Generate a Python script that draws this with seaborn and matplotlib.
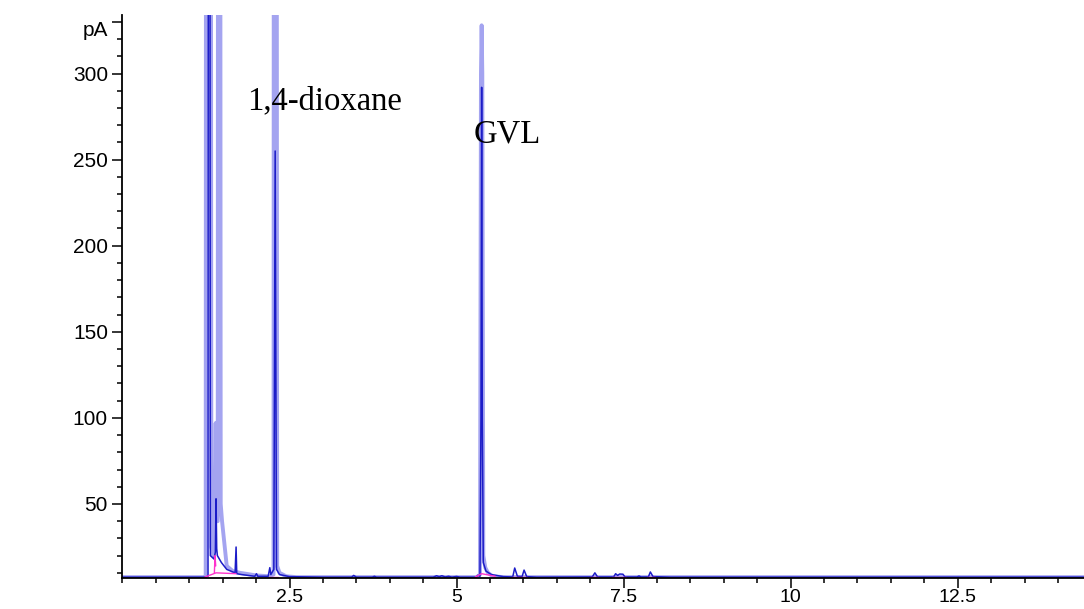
import numpy as np
import pandas as pd
import matplotlib
matplotlib.use("Agg")
import matplotlib.pyplot as plt
from matplotlib.ticker import MultipleLocator
from matplotlib.transforms import ScaledTranslation
import seaborn as sns

# Chromatogram traces (time in min, signal in pA)
# off-scale peaks are given a large value and get clipped by the axes
light_t = [0.0, 1.22, 1.245, 1.255, 1.315, 1.33, 1.36, 1.385, 1.395, 1.405, 1.425, 1.435, 1.455,
           1.47, 1.49, 1.56, 1.65, 1.76, 2.0, 2.2, 2.26, 2.27, 2.30, 2.315, 2.35, 2.45, 2.6,
           5.30, 5.35, 5.365, 5.375, 5.385, 5.40, 5.43, 5.47, 5.54, 5.7, 14.4]
light_v = [7.5, 7.5, 8, 1000, 1000, 25, 20, 60, 97, 40, 40, 1000, 1000,
           50, 40, 14, 11, 10, 8.5, 8, 9, 1000, 1000, 14, 10, 8, 7.5,
           7.5, 9, 300, 328, 300, 20, 13, 10, 8, 7.5, 7.5]

dark_t = [0.0, 1.22, 1.28, 1.29, 1.30, 1.315, 1.37, 1.39, 1.40, 1.41, 1.42, 1.48, 1.56, 1.685,
          1.70, 1.71, 1.78, 1.98, 2.005, 2.025, 2.18, 2.205, 2.22, 2.265, 2.285, 2.305, 2.35, 2.5,
          3.0, 3.43, 3.46, 3.5, 3.74, 3.77, 3.8, 4.65, 4.7, 4.74, 4.78, 4.83, 4.88, 4.93, 5.0,
          5.05, 5.29, 5.32, 5.35, 5.365, 5.375, 5.385, 5.40, 5.44, 5.52, 5.7, 5.84, 5.87, 5.91,
          5.98, 6.01, 6.05, 6.2, 7.03, 7.07, 7.11, 7.35, 7.38, 7.41, 7.44, 7.49, 7.52, 7.7,
          7.73, 7.76, 7.87, 7.90, 7.94, 8.2, 14.4]
dark_v = [7.5, 7.5, 8, 1000, 1000, 20, 18, 22, 53, 24, 20, 16, 12, 10,
          25, 9.5, 9, 8, 9.5, 8, 8, 13, 9, 12, 255, 12, 9, 7.8,
          7.5, 7.5, 8.5, 7.5, 7.5, 8, 7.5, 7.5, 8.3, 7.8, 8.3, 7.6, 8, 7.5, 7.9,
          7.5, 7.5, 8.6, 8, 100, 292, 100, 16, 11, 9, 7.8, 7.6, 12.8, 8,
          7.8, 11.6, 7.8, 7.5, 7.6, 10, 7.6, 7.6, 9.5, 8.5, 9.3, 9.2, 7.6, 7.6,
          8.2, 7.6, 7.6, 10.5, 7.8, 7.5, 7.5]

# integration baselines (magenta)
base_seg = [1, 1, 1, 2, 2, 2, 3, 3, 4, 4, 4, 5, 5, 6, 6, 7, 7, 8, 8]
base_t = [1.23, 1.40, 1.70, 1.375, 1.385, 1.395, 2.20, 2.32, 5.28, 5.375, 5.58,
          5.83, 6.06, 7.0, 7.12, 7.33, 7.53, 7.85, 7.97]
base_v = [7.5, 10, 9.5, 10, 20, 14, 7.8, 7.8, 7.6, 9.5, 8, 7.6, 7.6, 7.6, 7.6,
          7.6, 7.6, 7.6, 7.6]

y_ticks = [50, 100, 150, 200, 250, 300, 330]
y_labels = ["50", "100", "150", "200", "250", "300", "pA"]
x_ticks = [2.5, 5, 7.5, 10, 12.5]
x_labels = ["2.5", "5", "7.5", "10", "12.5"]

peak_names = ["1,4-dioxane", "GVL"]
peak_label_pos = [(1.87, 284), (5.26, 265)]

light = pd.DataFrame({"t": light_t, "pA": light_v})
dark = pd.DataFrame({"t": dark_t, "pA": dark_v})
base = pd.DataFrame({"seg": base_seg, "t": base_t, "pA": base_v})

sns.set_style("ticks")
plt.rcParams["font.family"] = ["Liberation Sans", "DejaVu Sans"]

fig = plt.figure(figsize=(10.84, 6.09), dpi=100)
ax = fig.add_axes([0.113, 0.0509, 0.887, 0.9245])

sns.lineplot(data=light, x="t", y="pA", ax=ax, color="#a4a4f0", lw=2.8,
             estimator=None, sort=False)
sns.lineplot(data=dark, x="t", y="pA", ax=ax, color="#1c1cc8", lw=1.1,
             estimator=None, sort=False)
sns.lineplot(data=base, x="t", y="pA", units="seg", ax=ax, color="#ff33cc", lw=1.0,
             estimator=None, sort=False)

for name, (tx, ty) in zip(peak_names, peak_label_pos):
    ax.text(tx, ty, name, family="Liberation Serif", fontsize=23.5, color="black",
            va="center", ha="left")

ax.set_xlim(0, 14.39)
ax.set_ylim(7.0, 334)
ax.set_xticks(x_ticks)
ax.set_xticklabels(x_labels, fontsize=14, color="black")
ax.set_yticks(y_ticks)
ax.set_yticklabels(y_labels, fontsize=15, color="black")
ax.xaxis.set_minor_locator(MultipleLocator(0.5))
ax.yaxis.set_minor_locator(MultipleLocator(10))
ax.tick_params(which="major", length=7.5, width=1.1, pad=3, color="black")
ax.tick_params(axis="x", which="major", length=7, pad=1)
ax.tick_params(which="minor", length=3.5, width=1.1, color="black")
ax.set_xlabel("")
ax.set_ylabel("")

# the "pA" unit label sits a little lower than its tick
pa = ax.get_yticklabels()[-1]
pa.set_transform(pa.get_transform() + ScaledTranslation(0, -5 / 72, fig.dpi_scale_trans))

sns.despine(ax=ax)
for s in ["left", "bottom"]:
    ax.spines[s].set_linewidth(1.3)
    ax.spines[s].set_color("black")

fig.savefig("out.png", dpi=100)
